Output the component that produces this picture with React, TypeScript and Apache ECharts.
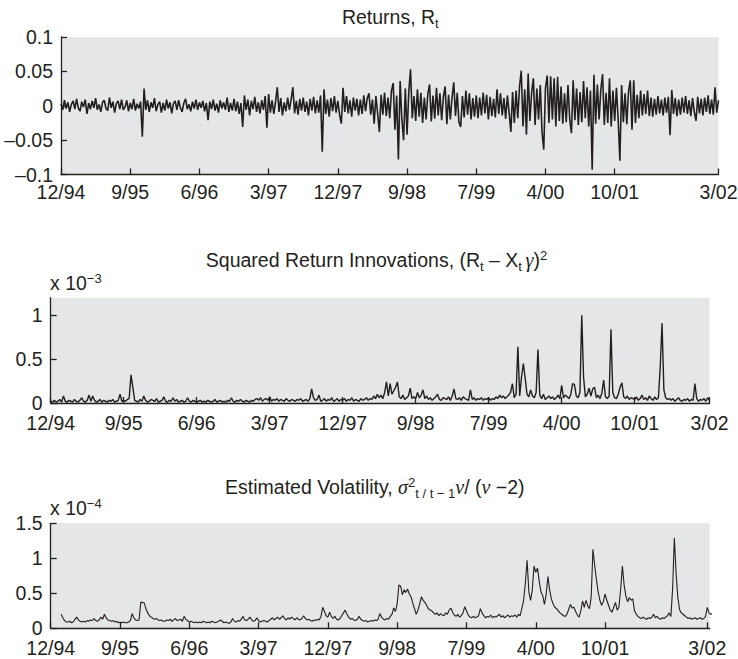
import React, { useEffect, useRef } from 'react';
import * as echarts from 'echarts';

// ---------- data ----------
const tickLabels = ['12/94', '9/95', '6/96', '3/97', '12/97', '9/98', '7/99', '4/00', '10/01', '3/02'];
// observation numbers at which the date labels sit (one list per panel)
const returnTickObs = [0, 200, 400, 600, 800, 1000, 1200, 1400, 1600, 1900];
const sqTickObs = [0, 200, 400, 600, 800, 1000, 1200, 1400, 1600, 1805];
const volTickObs = [0, 200, 400, 600, 800, 1000, 1200, 1400, 1600, 1895];

const obsStep = 5; // observations between stored points
const volFirstObs = 30;

// Returns R_t, in per-mille (1 = 0.001)
const returnsPermil = [
  3, -6, 8, -4, 5, -9, 2, 7, -5, 10, -3, -8, 6, -2, 9, -12, 4, -5, 7, -3,
  11, -6, 2, -9, 5, 8, -4, -7, 12, -3, 6, -10, 3, 7, -5, 9, -6, -2, 8, -8,
  4, -5, 10, -7, 3, -4, 6, -45, 25, -6, 8, -9, 5, -3, 11, -8, 2, 6, -10, 4,
  -7, 9, -4, 5, -11, 3, 7, -6, 8, -3, -9, 4, 10, -5, 2, -8, 6, -4, 9, -6,
  5, -3, 7, -8, 4, -21, 6, -5, 9, -7, 3, -10, 8, -4, 5, -6, 12, -9, 4, -7,
  10, -8, 6, -12, 4, -31, 15, -6, 9, -14, 7, -5, 13, -9, 5, -11, 8, -6, 14, -32,
  17, -10, 8, -12, 6, 27, -9, 11, -14, 5, -8, 12, -6, 9, 27, -11, 7, -13, 10, -7,
  12, -9, 6, -14, 10, -7, 13, -11, 8, -10, 15, -67, 24, -12, 9, -16, 11, -8, 14, -10,
  7, -13, -26, 26, -9, 14, -11, 8, -16, 12, -7, 10, -14, 9, -12, 15, -8, 11, 18, -13,
  9, -26, 14, -11, -38, 16, -13, 19, -15, 12, -18, 22, 33, -35, 15, -78, 36, -20, -50, 25,
  -42, 20, 53, -18, 14, -22, 24, -16, 19, -25, 12, -20, 17, 31, -23, 15, -19, 26, -14, 18,
  -21, 13, 28, -27, 16, -20, 12, 34, -15, 19, -24, -31, 14, -17, 22, -13, 18, -20, 11, -16,
  15, -18, 12, -14, 19, -11, 16, -20, 13, -15, 10, -17, 24, -12, 18, -14, 11, -19, 15, -10,
  -38, 20, -25, 22, -18, 28, 51, -30, 24, -42, 47, -22, 19, 40, -28, 25, -20, 30, -38, -64,
  26, 44, -25, 43, -20, 40, -30, 42, -22, 28, -26, 18, -24, 30, -19, -40, 37, -21, 25, -28,
  20, -24, 36, -18, 27, -30, 22, -93, 45, -26, 31, -20, 24, 46, -28, 19, -25, 40, -30, 22,
  -22, 26, -19, -80, 30, -24, 18, -27, 21, 37, -35, 37, -25, 16, -18, 22, -14, 17, -12, 22,
  -15, 12, -16, 10, -13, 14, -11, 9, -14, 12, -10, 13, -43, 23, -12, 11, -15, 9, -13, 12,
  -10, 14, -12, 8, -15, 11, -9, -22, 13, -11, 10, -14, 12, -9, 15, -12, 9, -13, 27, -10,
  8,
];

// Squared return innovations, in units of 1e-3
const sqInnovE3 = [
  0.02, 0.01, 0.03, 0.01, 0.02, 0.04, 0.01, 0.08, 0.02, 0.01, 0.03, 0.02, 0.01, 0.04, 0.02, 0.01, 0.03, 0.06, 0.02, 0.01,
  0.03, 0.09, 0.02, 0.08, 0.03, 0.01, 0.02, 0.04, 0.01, 0.03, 0.02, 0.01, 0.03, 0.02, 0.04, 0.01, 0.02, 0.03, 0.10, 0.02,
  0.03, 0.02, 0.04, 0.05, 0.32, 0.18, 0.03, 0.02, 0.01, 0.04, 0.02, 0.08, 0.03, 0.01, 0.02, 0.04, 0.03, 0.02, 0.05, 0.01,
  0.02, 0.03, 0.07, 0.02, 0.01, 0.03, 0.02, 0.06, 0.02, 0.04, 0.01, 0.02, 0.03, 0.01, 0.02, 0.06, 0.02, 0.01, 0.03, 0.02,
  0.01, 0.02, 0.03, 0.01, 0.02, 0.01, 0.03, 0.02, 0.01, 0.02, 0.04, 0.01, 0.02, 0.03, 0.01, 0.02, 0.01, 0.03, 0.02, 0.06,
  0.02, 0.01, 0.03, 0.02, 0.04, 0.02, 0.01, 0.03, 0.02, 0.01, 0.03, 0.02, 0.04, 0.05, 0.03, 0.06, 0.02, 0.04, 0.05, 0.03,
  0.07, 0.02, 0.04, 0.03, 0.05, 0.02, 0.04, 0.03, 0.02, 0.05, 0.03, 0.02, 0.04, 0.03, 0.02, 0.04, 0.03, 0.05, 0.02, 0.03,
  0.04, 0.02, 0.05, 0.16, 0.06, 0.03, 0.04, 0.09, 0.02, 0.03, 0.05, 0.02, 0.04, 0.03, 0.06, 0.02, 0.03, 0.05, 0.02, 0.04,
  0.03, 0.05, 0.02, 0.04, 0.03, 0.06, 0.02, 0.04, 0.03, 0.02, 0.05, 0.03, 0.04, 0.06, 0.03, 0.05, 0.04, 0.08, 0.05, 0.10,
  0.06, 0.09, 0.05, 0.12, 0.24, 0.08, 0.22, 0.10, 0.14, 0.18, 0.24, 0.07, 0.05, 0.09, 0.04, 0.06, 0.08, 0.17, 0.05, 0.07,
  0.05, 0.12, 0.06, 0.09, 0.15, 0.05, 0.08, 0.04, 0.06, 0.03, 0.05, 0.07, 0.10, 0.04, 0.03, 0.06, 0.05, 0.04, 0.07, 0.03,
  0.08, 0.16, 0.05, 0.04, 0.06, 0.03, 0.07, 0.05, 0.04, 0.03, 0.15, 0.04, 0.06, 0.03, 0.05, 0.04, 0.06, 0.03, 0.05, 0.04,
  0.06, 0.03, 0.05, 0.04, 0.07, 0.05, 0.09, 0.06, 0.08, 0.05, 0.07, 0.09, 0.12, 0.22, 0.06, 0.10, 0.64, 0.08, 0.30, 0.45,
  0.28, 0.10, 0.07, 0.15, 0.08, 0.06, 0.12, 0.61, 0.09, 0.05, 0.10, 0.04, 0.06, 0.08, 0.05, 0.07, 0.04, 0.06, 0.09, 0.05,
  0.20, 0.06, 0.09, 0.07, 0.05, 0.10, 0.22, 0.21, 0.08, 0.06, 0.12, 1.00, 0.29, 0.07, 0.10, 0.17, 0.08, 0.16, 0.18, 0.06,
  0.09, 0.05, 0.11, 0.26, 0.07, 0.05, 0.08, 0.84, 0.12, 0.06, 0.05, 0.10, 0.18, 0.23, 0.07, 0.05, 0.08, 0.04, 0.06, 0.05,
  0.04, 0.07, 0.03, 0.05, 0.09, 0.04, 0.06, 0.03, 0.08, 0.05, 0.03, 0.07, 0.04, 0.06, 0.41, 0.91, 0.15, 0.06, 0.04, 0.05,
  0.03, 0.05, 0.02, 0.04, 0.06, 0.03, 0.02, 0.04, 0.03, 0.05, 0.02, 0.04, 0.03, 0.22, 0.05, 0.02, 0.04, 0.03, 0.05, 0.02,
  0.06, 0.03,
];

// Estimated volatility, in units of 1e-4
const volE4 = [
  0.20, 0.15, 0.11, 0.09, 0.09, 0.10, 0.08, 0.09, 0.13, 0.16, 0.12, 0.10, 0.09, 0.10, 0.09, 0.11, 0.10, 0.12, 0.11, 0.14,
  0.11, 0.10, 0.12, 0.16, 0.13, 0.20, 0.15, 0.12, 0.11, 0.10, 0.11, 0.09, 0.10, 0.08, 0.09, 0.08, 0.09, 0.08, 0.08, 0.09,
  0.11, 0.21, 0.15, 0.12, 0.11, 0.12, 0.37, 0.37, 0.36, 0.28, 0.22, 0.18, 0.16, 0.14, 0.13, 0.14, 0.12, 0.11, 0.12, 0.10,
  0.10, 0.12, 0.11, 0.13, 0.10, 0.12, 0.14, 0.11, 0.12, 0.13, 0.10, 0.17, 0.13, 0.11, 0.09, 0.10, 0.09, 0.08, 0.09, 0.08,
  0.09, 0.08, 0.10, 0.09, 0.08, 0.09, 0.08, 0.10, 0.09, 0.08, 0.09, 0.10, 0.12, 0.10, 0.08, 0.09, 0.08, 0.07, 0.09, 0.14,
  0.10, 0.09, 0.11, 0.10, 0.13, 0.17, 0.12, 0.11, 0.13, 0.16, 0.12, 0.10, 0.11, 0.15, 0.11, 0.09, 0.10, 0.11, 0.10, 0.09,
  0.11, 0.13, 0.15, 0.12, 0.14, 0.16, 0.13, 0.15, 0.18, 0.14, 0.12, 0.15, 0.13, 0.16, 0.14, 0.12, 0.15, 0.13, 0.12, 0.14,
  0.18, 0.14, 0.12, 0.13, 0.11, 0.10, 0.12, 0.11, 0.13, 0.12, 0.17, 0.30, 0.24, 0.18, 0.16, 0.23, 0.17, 0.14, 0.17, 0.13,
  0.12, 0.14, 0.18, 0.22, 0.26, 0.20, 0.16, 0.13, 0.14, 0.12, 0.11, 0.13, 0.17, 0.13, 0.11, 0.10, 0.11, 0.09, 0.10, 0.11,
  0.10, 0.12, 0.11, 0.13, 0.21, 0.16, 0.13, 0.12, 0.14, 0.13, 0.17, 0.20, 0.29, 0.24, 0.35, 0.62, 0.60, 0.48, 0.55, 0.51,
  0.56, 0.49, 0.45, 0.36, 0.28, 0.20, 0.26, 0.35, 0.45, 0.40, 0.37, 0.33, 0.28, 0.26, 0.25, 0.22, 0.20, 0.22, 0.18, 0.21,
  0.19, 0.18, 0.22, 0.20, 0.26, 0.29, 0.23, 0.19, 0.17, 0.20, 0.16, 0.18, 0.22, 0.31, 0.25, 0.19, 0.16, 0.15, 0.17, 0.15,
  0.16, 0.18, 0.28, 0.22, 0.18, 0.15, 0.17, 0.16, 0.19, 0.15, 0.17, 0.16, 0.18, 0.20, 0.16, 0.18, 0.15, 0.17, 0.19, 0.16,
  0.18, 0.17, 0.19, 0.16, 0.20, 0.18, 0.29, 0.40, 0.65, 0.97, 0.52, 0.40, 0.55, 0.89, 0.80, 0.86, 0.67, 0.52, 0.47, 0.34,
  0.48, 0.74, 0.55, 0.42, 0.35, 0.30, 0.28, 0.25, 0.22, 0.20, 0.18, 0.17, 0.20, 0.27, 0.34, 0.29, 0.30, 0.24, 0.19, 0.16,
  0.25, 0.39, 0.30, 0.40, 0.32, 0.28, 0.45, 1.13, 0.90, 0.70, 0.52, 0.40, 0.33, 0.38, 0.49, 0.40, 0.33, 0.26, 0.23, 0.30,
  0.37, 0.26, 0.30, 0.55, 0.89, 0.62, 0.46, 0.38, 0.44, 0.40, 0.42, 0.25, 0.20, 0.17, 0.15, 0.14, 0.16, 0.14, 0.13, 0.15,
  0.14, 0.16, 0.20, 0.15, 0.17, 0.14, 0.13, 0.15, 0.14, 0.16, 0.18, 0.22, 0.17, 0.57, 1.29, 0.79, 0.44, 0.27, 0.22, 0.20,
  0.18, 0.16, 0.14, 0.15, 0.13, 0.14, 0.15, 0.13, 0.14, 0.15, 0.13, 0.14, 0.17, 0.30, 0.22, 0.20, 0.21, 0.18, 0.17, 0.16,
];

const sqYTicks = [0, 0.5, 1];

// ---------- styling ----------
const INK = '#231f20';
const GRAY = '#e5e6e8';
const FONT = 'Liberation Sans';
const FS = 19.5;

const toPairs = (vals: number[], firstObs: number, scale: number) =>
  vals.map((v, i) => [firstObs + i * obsStep, v * scale]);

const fmtY = (v: number) => {
  const s = String(Math.round(v * 10000) / 10000);
  return s.replace('-', '\u2013');
};

const lineStyle = { color: INK, width: 1.3 };

function xAxisFor(gridIndex: number, max: number, ticks: number[], margin: number) {
  return {
    type: 'value',
    gridIndex,
    min: 0,
    max,
    axisLine: { show: true, onZero: false, lineStyle },
    axisTick: { show: true, inside: true, length: 6, customValues: ticks, lineStyle },
    axisLabel: {
      show: true,
      customValues: ticks,
      showMinLabel: true,
      showMaxLabel: true,
      margin,
      color: INK,
      fontFamily: FONT,
      fontSize: FS,
      formatter: (v: number) => {
        const k = ticks.indexOf(v);
        return k >= 0 ? tickLabels[k] : '';
      },
    },
    splitLine: { show: false },
  };
}

function yAxisBase(gridIndex: number) {
  return {
    type: 'value',
    gridIndex,
    axisLine: { show: true, onZero: false, lineStyle },
    axisTick: { show: true, inside: true, length: 6, lineStyle },
    axisLabel: { margin: 8, color: INK, fontFamily: FONT, fontSize: FS, formatter: fmtY },
    splitLine: { show: false },
  };
}

const rich = {
  m: { fontFamily: FONT, fontSize: FS, fill: INK, color: INK },
  sub: { fontFamily: FONT, fontSize: 13, fill: INK, color: INK, padding: [13.5, 0, 0, 0] },
  sup: { fontFamily: FONT, fontSize: 13, fill: INK, color: INK, padding: [0, 0, 9.5, 0] },
  g: { fontFamily: 'Liberation Serif', fontStyle: 'italic', fontSize: 20, fill: INK, color: INK },
};

const BASE_OFF = 6.8; // distance from text centre to alphabetic baseline

function richText(x: number, baseline: number, text: string, align: string) {
  return {
    type: 'text',
    x,
    y: baseline - BASE_OFF,
    silent: true,
    style: {
      text,
      rich,
      fill: INK,
      fontFamily: FONT,
      fontSize: FS,
      align,
      textAlign: align,
      verticalAlign: 'middle',
      textVerticalAlign: 'middle',
    },
  };
}

const option: any = {
  animation: false,
  backgroundColor: '#ffffff',
  grid: [
    { left: 61, top: 37, width: 657.5, height: 137.5, show: true, backgroundColor: GRAY, borderWidth: 0, containLabel: false, outerBoundsMode: 'none' },
    { left: 50.7, top: 297.7, width: 658.8, height: 105.3, show: true, backgroundColor: GRAY, borderWidth: 0, containLabel: false, outerBoundsMode: 'none' },
    { left: 50.7, top: 523.3, width: 659, height: 105, show: true, backgroundColor: GRAY, borderWidth: 0, containLabel: false, outerBoundsMode: 'none' },
  ],
  xAxis: [
    xAxisFor(0, 1900, returnTickObs, 7.5),
    xAxisFor(1, 1805, sqTickObs, 9.5),
    xAxisFor(2, 1902, volTickObs, 9.5),
  ],
  yAxis: [
    { ...yAxisBase(0), min: -0.1, max: 0.1, interval: 0.05 },
    {
      ...yAxisBase(1),
      min: 0,
      max: 1.2,
      axisTick: { show: true, inside: true, length: 6, lineStyle, customValues: sqYTicks },
      axisLabel: { margin: 8, color: INK, fontFamily: FONT, fontSize: FS, formatter: fmtY, customValues: sqYTicks },
    },
    { ...yAxisBase(2), min: 0, max: 1.5, interval: 0.5 },
  ],
  series: [
    {
      type: 'line', xAxisIndex: 0, yAxisIndex: 0,
      data: toPairs(returnsPermil, 0, 0.001),
      showSymbol: false, symbol: 'none', silent: true,
      lineStyle: { color: INK, width: 1.6 },
    },
    {
      type: 'line', xAxisIndex: 1, yAxisIndex: 1,
      data: toPairs(sqInnovE3, 0, 1),
      showSymbol: false, symbol: 'none', silent: true,
      lineStyle: { color: INK, width: 1.4 },
    },
    {
      type: 'line', xAxisIndex: 2, yAxisIndex: 2,
      data: toPairs(volE4, volFirstObs, 1),
      showSymbol: false, symbol: 'none', silent: true, clip: false,
      lineStyle: { color: INK, width: 1.1 },
    },
  ],
  graphic: [
    richText(390.3, 23.3, '{m|Returns, R}{sub|t}', 'center'),
    richText(376.5, 267, '{m|Squared Return Innovations, (R}{sub|t}{m| \u2013 X}{sub|t }{g|\u03b3}{m|)}{sup|2}', 'center'),
    richText(50, 290, '{m|x 10}{sup|\u22123}', 'left'),
    richText(374.8, 494, '{m|Estimated Volatility, }{g|\u03c3}{sup|2}{sub|t / t \u2212 1}{g|\u03bd}{m|/ (}{g|\u03bd}{m| \u22122)}', 'center'),
    richText(50, 515, '{m|x 10}{sup|\u22124}', 'left'),
  ],
};

export default function App() {
  const ref = useRef<HTMLDivElement>(null);
  useEffect(() => {
    if (!ref.current) return;
    const chart = echarts.init(ref.current, null, { renderer: 'svg', width: 738, height: 659 });
    chart.setOption(option);
    return () => chart.dispose();
  }, []);
  return (
    <div
      ref={ref}
      style={{ position: 'fixed', left: 0, top: 0, width: 738, height: 659, background: '#ffffff' }}
    />
  );
}
